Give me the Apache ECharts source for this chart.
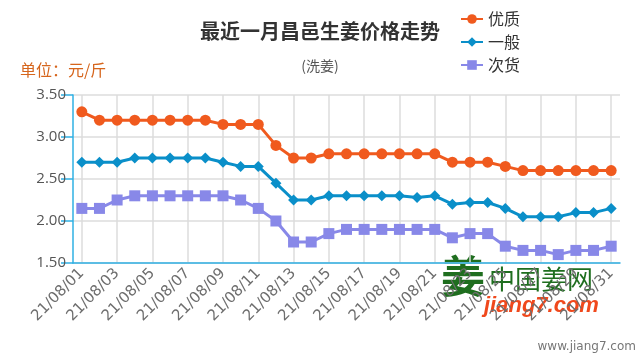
<!DOCTYPE html>
<html>
<head>
<meta charset="utf-8">
<script src="https://cdn.jsdelivr.net/npm/echarts@6/dist/echarts.min.js"></script>
<style>
html,body{margin:0;padding:0;background:#fff;}
#main{width:640px;height:360px;}
</style>
</head>
<body>
<div id="main"></div>
<script>
var categories = ['21/08/01','21/08/02','21/08/03','21/08/04','21/08/05','21/08/06','21/08/07','21/08/08','21/08/09','21/08/10',
  '21/08/11','21/08/12','21/08/13','21/08/14','21/08/15','21/08/16','21/08/17','21/08/18','21/08/19','21/08/20',
  '21/08/21','21/08/22','21/08/23','21/08/24','21/08/25','21/08/26','21/08/27','21/08/28','21/08/29','21/08/30','21/08/31'];
var premium = [3.30,3.20,3.20,3.20,3.20,3.20,3.20,3.20,3.15,3.15,3.15,2.90,2.75,2.75,2.80,2.80,2.80,2.80,2.80,2.80,2.80,2.70,2.70,2.70,2.65,2.60,2.60,2.60,2.60,2.60,2.60];
var normal = [2.70,2.70,2.70,2.75,2.75,2.75,2.75,2.75,2.70,2.65,2.65,2.45,2.25,2.25,2.30,2.30,2.30,2.30,2.30,2.28,2.30,2.20,2.22,2.22,2.15,2.05,2.05,2.05,2.10,2.10,2.15];
var inferior = [2.15,2.15,2.25,2.30,2.30,2.30,2.30,2.30,2.30,2.25,2.15,2.00,1.75,1.75,1.85,1.90,1.90,1.90,1.90,1.90,1.90,1.80,1.85,1.85,1.70,1.65,1.65,1.60,1.65,1.65,1.70];
var seriesNames = ['优质','一般','次货'];
var yTicks = [1.5, 3.5, 0.5];

var axisColor = '#2fb0e3';
var chart = echarts.init(document.getElementById('main'), null, {renderer:'canvas'});
var font = '"Noto Sans CJK SC", "Noto Sans", sans-serif';
chart.setOption({
  animation: false,
  textStyle: {fontFamily: font},
  title: {
    text: '最近一月昌邑生姜价格走势',
    subtext: '(洗姜)',
    left: 'center',
    top: 16,
    itemGap: 18,
    textStyle: {fontSize: 20, fontWeight: 'bold', color: '#333', fontFamily: font},
    subtextStyle: {fontSize: 14, color: '#555', fontFamily: font}
  },
  legend: {
    orient: 'vertical',
    left: 455,
    top: 6,
    itemWidth: 22,
    itemHeight: 12,
    itemGap: 7,
    textStyle: {fontSize: 16, color: '#333', fontFamily: font},
    data: seriesNames
  },
  graphic: [
    {type:'text', left: 20, top: 62, style:{text:'单位：元/斤', fill:'#d6651c', font:'16px ' + font}},
    {type:'text', left: 441, top: 254, style:{text:'姜', fill:'#1f6e1f', font:'bold 44px ' + font}},
    {type:'text', left: 489, top: 266, style:{text:'中国姜网', fill:'#1f6e1f', font:'26px ' + font}},
    {type:'text', left: 484, top: 295, style:{text:'jiang7.com', fill:'#f0481c', font:'italic bold 22px "Liberation Sans", Arial, sans-serif'}},
    {type:'text', right: 4, top: 341, style:{text:'www.jiang7.com', fill:'#777', font:'12px "DejaVu Sans", sans-serif'}}
  ],
  grid: {left: 73, right: 20, top: 95, bottom: 97},
  xAxis: {
    type: 'category',
    data: categories,
    boundaryGap: true,
    axisLine: {lineStyle: {color: axisColor, width: 1.5}},
    axisTick: {interval: 1, alignWithLabel: true, length: 11, lineStyle: {color: axisColor, width: 1.5}},
    axisLabel: {interval: 1, rotate: 45, fontSize: 15, color: '#6e6e6e', margin: 8, fontFamily: '"DejaVu Sans", sans-serif'},
    splitLine: {show: true, interval: 1, alignWithLabel: true, lineStyle: {color: '#dcdcdc', width: 1.5}}
  },
  yAxis: {
    type: 'value',
    min: yTicks[0], max: yTicks[1], interval: yTicks[2],
    axisLine: {show: true, lineStyle: {color: axisColor, width: 1.5}},
    axisTick: {show: true, length: 12, lineStyle: {color: axisColor, width: 1.5}},
    axisLabel: {fontSize: 15, color: '#555', margin: 7, fontFamily: '"Open Sans", sans-serif', formatter: function(v){return v.toFixed(2);}},
    splitLine: {show: true, lineStyle: {color: '#dcdcdc', width: 1.5}}
  },
  series: [
    {name: seriesNames[0], type: 'line', data: premium, symbol: 'circle', symbolSize: 11,
     itemStyle: {color: '#f05a1e'}, lineStyle: {width: 3}},
    {name: seriesNames[1], type: 'line', data: normal, symbol: 'diamond', symbolSize: 11,
     itemStyle: {color: '#0a8fc9'}, lineStyle: {width: 3}},
    {name: seriesNames[2], type: 'line', data: inferior, symbol: 'rect', symbolSize: 11,
     itemStyle: {color: '#8888e8'}, lineStyle: {width: 3}}
  ]
});
</script>
</body>
</html>
